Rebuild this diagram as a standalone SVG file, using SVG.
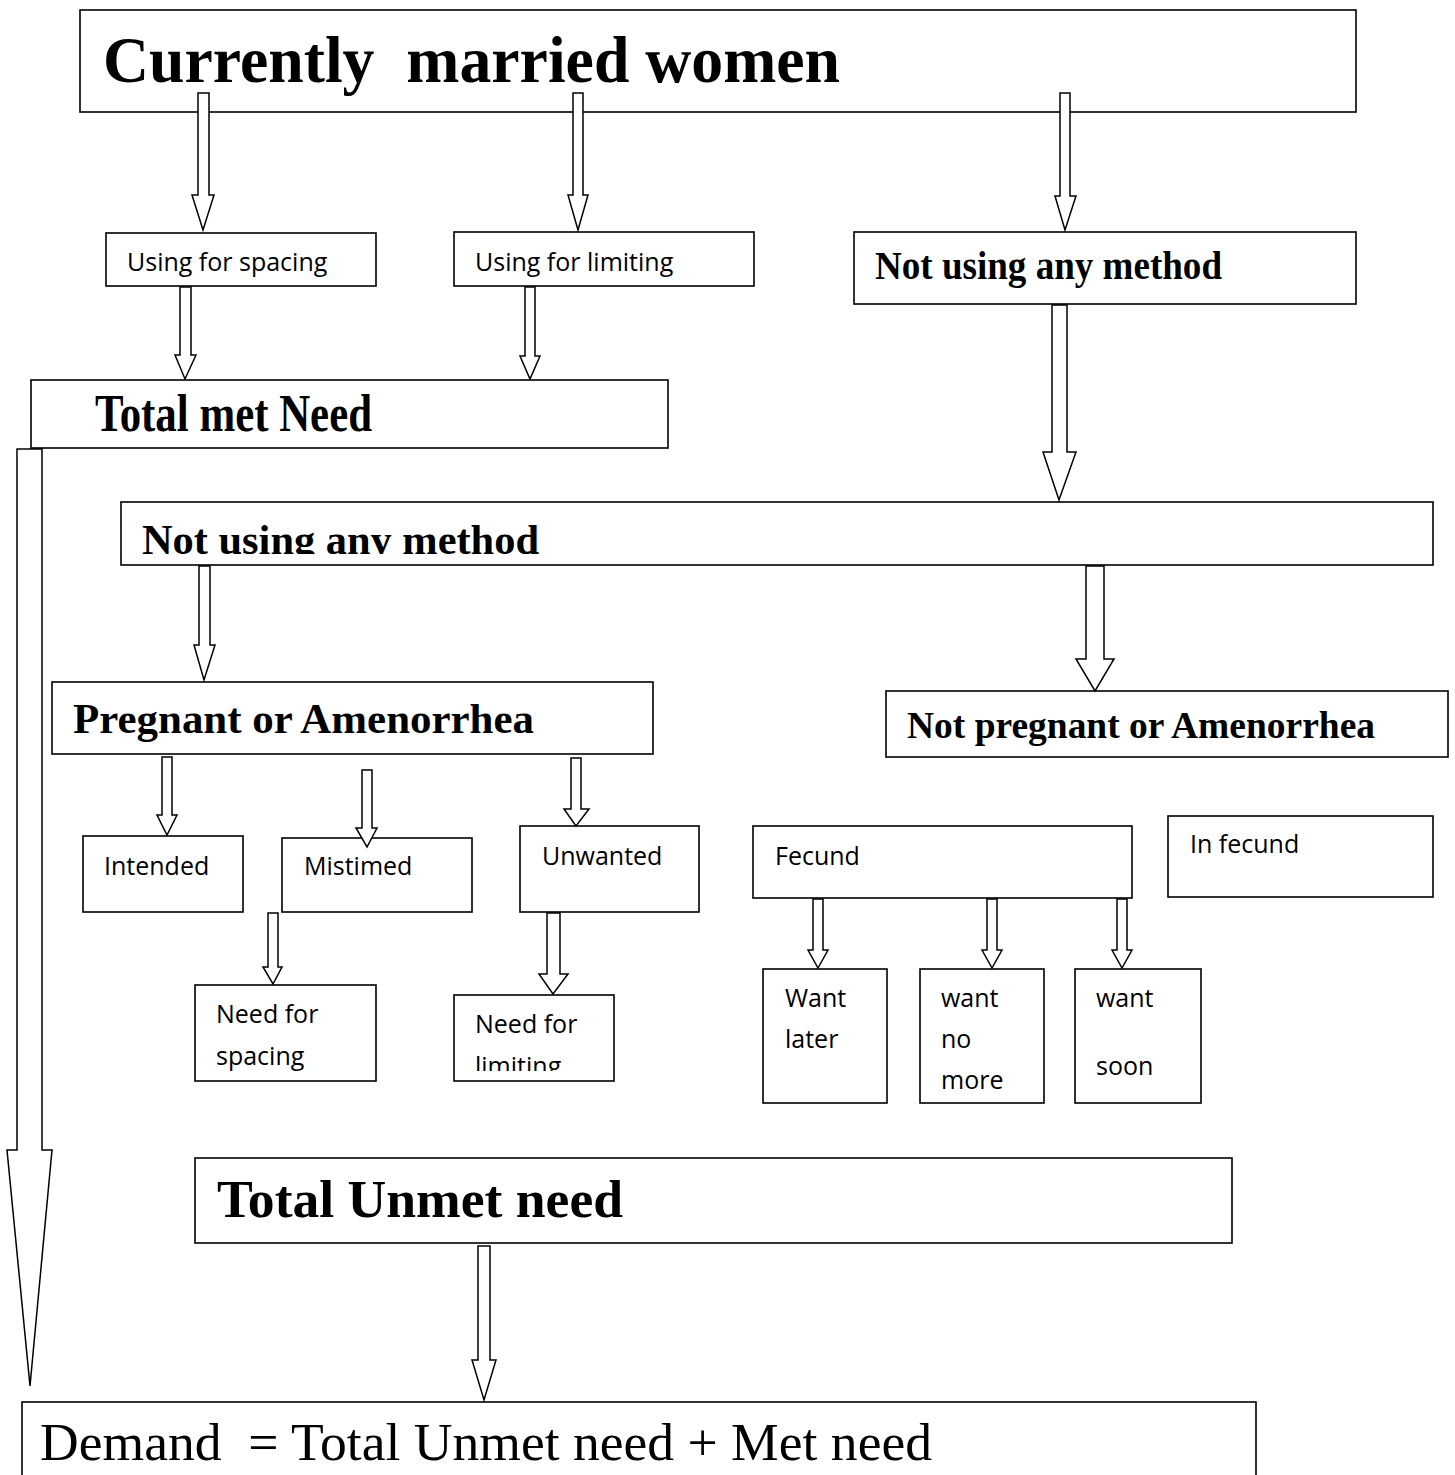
<svg xmlns="http://www.w3.org/2000/svg" width="1455" height="1475" viewBox="0 0 1455 1475">
<style>
.box{fill:#fff;stroke:#000;stroke-width:1.6}
.arr{fill:#fff;stroke:#000;stroke-width:1.5;stroke-linejoin:miter}
text{white-space:pre}
.tb{font-family:"Liberation Serif","Times New Roman",serif;font-weight:bold;fill:#000}
.tr{font-family:"Liberation Serif","Times New Roman",serif;fill:#000}
.ts{font-family:"Open Sans","Noto Sans",sans-serif;font-size:25px;fill:#000}
</style>
<defs>
<clipPath id="clipNU2"><rect x="121" y="502" width="1312" height="52"/></clipPath>
<clipPath id="clipLim"><rect x="454" y="995" width="160" height="76"/></clipPath>
</defs>
<rect width="1455" height="1475" fill="#fff"/>

<g id="n-married"><rect class="box" x="80" y="10" width="1276" height="102"/>
<text class="tb" x="103" y="82" font-size="66" textLength="737" lengthAdjust="spacingAndGlyphs" xml:space="preserve">Currently  married women</text></g>

<g id="n-spacing"><rect class="box" x="106" y="233" width="270" height="53"/>
<text class="ts" x="127" y="271">Using for spacing</text></g>

<g id="n-limiting"><rect class="box" x="454" y="232" width="300" height="54"/>
<text class="ts" x="475" y="271">Using for limiting</text></g>

<g id="n-notusing1"><rect class="box" x="854" y="232" width="502" height="72"/>
<text class="tb" x="875" y="279" font-size="40" textLength="347" lengthAdjust="spacingAndGlyphs">Not using any method</text></g>

<g id="n-metneed"><rect class="box" x="31" y="380" width="637" height="68"/>
<text class="tb" x="95" y="431" font-size="52" textLength="277" lengthAdjust="spacingAndGlyphs">Total met Need</text></g>

<g id="n-notusing2"><rect class="box" x="121" y="502" width="1312" height="63"/>
<text class="tb" x="142" y="554" font-size="42" textLength="397" lengthAdjust="spacingAndGlyphs" clip-path="url(#clipNU2)">Not using any method</text></g>

<g id="n-pregnant"><rect class="box" x="52" y="682" width="601" height="72"/>
<text class="tb" x="73" y="733" font-size="43" textLength="461" lengthAdjust="spacingAndGlyphs">Pregnant or Amenorrhea</text></g>

<g id="n-notpregnant"><rect class="box" x="886" y="691" width="562" height="66"/>
<text class="tb" x="907" y="738" font-size="37" textLength="468" lengthAdjust="spacingAndGlyphs">Not pregnant or Amenorrhea</text></g>

<g id="n-intended"><rect class="box" x="83" y="836" width="160" height="76"/>
<text class="ts" x="104" y="875">Intended</text></g>

<g id="n-mistimed"><rect class="box" x="282" y="838" width="190" height="74"/>
<text class="ts" x="304" y="875">Mistimed</text></g>

<g id="n-unwanted"><rect class="box" x="520" y="826" width="179" height="86"/>
<text class="ts" x="542" y="865">Unwanted</text></g>

<g id="n-fecund"><rect class="box" x="753" y="826" width="379" height="72"/>
<text class="ts" x="775" y="865">Fecund</text></g>

<g id="n-infecund"><rect class="box" x="1168" y="816" width="265" height="81"/>
<text class="ts" x="1190" y="853">In fecund</text></g>

<g id="n-needspacing"><rect class="box" x="195" y="985" width="181" height="96"/>
<text class="ts" x="216" y="1023">Need for</text>
<text class="ts" x="216" y="1065">spacing</text></g>

<g id="n-needlimiting"><rect class="box" x="454" y="995" width="160" height="86"/>
<text class="ts" x="475" y="1033">Need for</text>
<text class="ts" x="475" y="1075" clip-path="url(#clipLim)">limiting</text></g>

<g id="n-wantlater"><rect class="box" x="763" y="969" width="124" height="134"/>
<text class="ts" x="785" y="1007">Want</text>
<text class="ts" x="785" y="1048">later</text></g>

<g id="n-wantnomore"><rect class="box" x="920" y="969" width="124" height="134"/>
<text class="ts" x="941" y="1007">want</text>
<text class="ts" x="941" y="1048">no</text>
<text class="ts" x="941" y="1089">more</text></g>

<g id="n-wantsoon"><rect class="box" x="1075" y="969" width="126" height="134"/>
<text class="ts" x="1096" y="1007">want</text>
<text class="ts" x="1096" y="1075">soon</text></g>

<g id="n-unmet"><rect class="box" x="195" y="1158" width="1037" height="85"/>
<text class="tb" x="217" y="1217" font-size="52" textLength="406" lengthAdjust="spacingAndGlyphs">Total Unmet need</text></g>

<g id="n-demand"><rect class="box" x="22" y="1402" width="1234" height="90"/>
<text class="tr" x="40" y="1460" font-size="53" textLength="892" lengthAdjust="spacingAndGlyphs" xml:space="preserve">Demand  = Total Unmet need + Met need</text></g>

<g id="connectors">
<polygon class="arr" points="198,93 209,93 209,195 214,195 203,230 192,195 198,195"/>
<polygon class="arr" points="573,93 583,93 583,195 588,195 578,230 568,195 573,195"/>
<polygon class="arr" points="1060,93 1070,93 1070,196 1076,196 1065,230 1055,196 1060,196"/>
<polygon class="arr" points="180,287 191,287 191,355 196,355 185,379 175,355 180,355"/>
<polygon class="arr" points="525,287 535,287 535,356 540,356 530,379 520,356 525,356"/>
<polygon class="arr" points="1052,305 1067,305 1067,452 1076,452 1059,500 1043,452 1052,452"/>
<polygon class="arr" points="17,449 42,449 42,1150 52,1150 30,1386 7,1150 17,1150"/>
<polygon class="arr" points="199,566 210,566 210,645 215,645 204,680 194,645 199,645"/>
<polygon class="arr" points="1086,566 1104,566 1104,659 1114,659 1095,691 1076,659 1086,659"/>
<polygon class="arr" points="162,757 172,757 172,815 177,815 167,835 157,815 162,815"/>
<polygon class="arr" points="362,770 372,770 372,828 377,828 367,847 356,828 362,828"/>
<polygon class="arr" points="571,758 581,758 581,809 589,809 576,826 564,809 571,809"/>
<polygon class="arr" points="268,913 278,913 278,967 282,967 273,984 263,967 268,967"/>
<polygon class="arr" points="547,913 560,913 560,974 568,974 553,994 539,974 547,974"/>
<polygon class="arr" points="813,899 823,899 823,950 828,950 818,968 808,950 813,950"/>
<polygon class="arr" points="987,899 997,899 997,950 1002,950 992,968 982,950 987,950"/>
<polygon class="arr" points="1117,899 1127,899 1127,950 1132,950 1122,968 1112,950 1117,950"/>
<polygon class="arr" points="478,1246 490,1246 490,1360 496,1360 484,1400 472,1360 478,1360"/>
</g>
</svg>
